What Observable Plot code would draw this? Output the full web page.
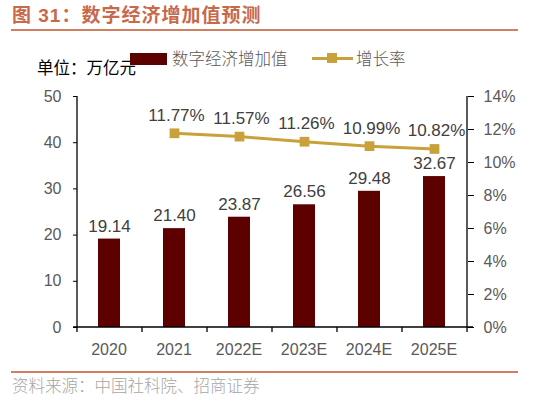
<!DOCTYPE html>
<html><head><meta charset="utf-8">
<script src="https://cdn.jsdelivr.net/npm/d3@7"></script>
<script src="https://cdn.jsdelivr.net/npm/@observablehq/plot@0.6"></script>
<style>
body{margin:0;background:#fff;font-family:"Liberation Sans","Noto Sans CJK SC",sans-serif;}
#wrap{position:relative;width:547px;height:401px;overflow:hidden;}
.abs{position:absolute;white-space:nowrap;line-height:1;}
#title{left:12px;top:6px;font-size:19px;letter-spacing:1px;font-weight:bold;color:#C8694A;font-family:"Liberation Sans","Noto Sans CJK SC",sans-serif;}
#tline{left:11px;top:29px;width:507px;height:2px;background:#D08060;}
#bline{left:11px;top:371px;width:507px;height:2px;background:#D08060;}
#src{left:12px;top:377px;font-size:16.5px;color:#A6A6A6;font-family:"Noto Sans CJK SC",sans-serif;font-weight:300;}
#unit{left:37px;top:59px;font-size:16.5px;color:#000;font-family:"Noto Sans CJK SC",sans-serif;}
.leg{font-size:16.5px;color:#595959;font-family:"Noto Sans CJK SC",sans-serif;font-weight:300;}
#chart{position:absolute;left:0;top:80px;}
</style></head>
<body><div id="wrap">
<div id="title" class="abs">图 31：数字经济增加值预测</div>
<div id="tline" class="abs"></div>
<div id="unit" class="abs">单位：万亿元</div>
<div class="abs" style="left:130px;top:53px;width:37px;height:12px;background:#5C0000"></div>
<div class="abs leg" style="left:172px;top:50px">数字经济增加值</div>
<div class="abs" style="left:312px;top:57px;width:41px;height:3px;background:#C9A13A"></div>
<div class="abs" style="left:327px;top:53px;width:10px;height:10px;background:#C9A13A"></div>
<div class="abs leg" style="left:356px;top:50px">增长率</div>
<div id="chart"></div>
<div id="bline" class="abs"></div>
<div id="src" class="abs">资料来源：中国社科院、招商证券</div>
</div>
<script>
const years = ["2020","2021","2022E","2023E","2024E","2025E"];
const values = [19.14, 21.40, 23.87, 26.56, 29.48, 32.67];
const rateYears = ["2021","2022E","2023E","2024E","2025E"];
const rates = [11.77, 11.57, 11.26, 10.99, 10.82];
const leftTicks = [0,10,20,30,40,50];
const rightTicks = [0,2,4,6,8,10,12,14];

const bars = years.map((y,i)=>({year:y, value:values[i]}));
// map rate (0-14%) onto left scale (0-50)
const k = 50/14;
const line = rateYears.map((y,i)=>({year:y, rate:rates[i], v:rates[i]*k}));

const W=547, H=280, mL=77, mR=80, mT=16, mB=33;
const chart = Plot.plot({
  width: W, height: H,
  marginLeft: mL, marginRight: mR, marginTop: mT, marginBottom: mB,
  style:{fontFamily:"Liberation Sans, sans-serif", fontSize:"15px", color:"#595959", background:"transparent"},
  x:{domain: years, paddingInner:0.66, paddingOuter:0.33, label:null, axis:null},
  y:{domain:[0,50], label:null},
  marks:[
    Plot.barY(bars,{x:"year", y:"value", fill:"#5C0000"}),
    Plot.text(bars,{x:"year", y:"value", text:d=>d.value.toFixed(2), dy:-13, fontSize:17, fill:"#404040"}),
    Plot.line(line,{x:"year", y:"v", stroke:"#C9A13A", strokeWidth:3}),
    Plot.dot(line,{x:"year", y:"v", symbol:"square", r:5.5, fill:"#C9A13A"}),
    Plot.text(line,{x:"year", y:"v", text:d=>d.rate.toFixed(2)+"%", dy:-18, dx:2, fontSize:17, fill:"#404040"}),
    Plot.axisY({ticks:leftTicks, anchor:"left", tickSize:4, tickPadding:12, tickFormat:d=>d, fontSize:16, fill:"#595959", stroke:"#000", label:null}),
    Plot.axisY({ticks:rightTicks.map(t=>t*k), anchor:"right", tickSize:6, tickPadding:10, tickFormat:d=>Math.round(d/k)+"%", fontSize:16, fill:"#595959", stroke:"#000", label:null}),
  ]
});
document.getElementById("chart").appendChild(chart);

// frame lines & category boundary ticks, positioned from the plot's scales
const svg = d3.select(chart);
const xs = chart.scale("x"), ys = chart.scale("y");
const y0 = ys.apply(0), y50 = ys.apply(50);
const xl = mL, xr = W - mR;
const g = svg.append("g").attr("stroke","#000").attr("stroke-width",1.3);
g.append("line").attr("x1",xl).attr("x2",xl).attr("y1",y0).attr("y2",y50);
g.append("line").attr("x1",xr).attr("x2",xr).attr("y1",y0).attr("y2",y50);
g.append("line").attr("x1",xl-4).attr("x2",xr+6).attr("y1",y0).attr("y2",y0);
const step = (xr-xl)/years.length;
for(let i=0;i<=years.length;i++){
  g.append("line").attr("x1",xl+i*step).attr("x2",xl+i*step).attr("y1",y0).attr("y2",y0+5);
}
const xg = svg.append("g").attr("fill","#595959").attr("font-size",16).attr("text-anchor","middle").attr("font-family","Liberation Sans, sans-serif");
years.forEach(y=>{
  xg.append("text").attr("x", xs.apply(y)+xs.bandwidth/2).attr("y", y0+28).text(y);
});
</script>
</body></html>
